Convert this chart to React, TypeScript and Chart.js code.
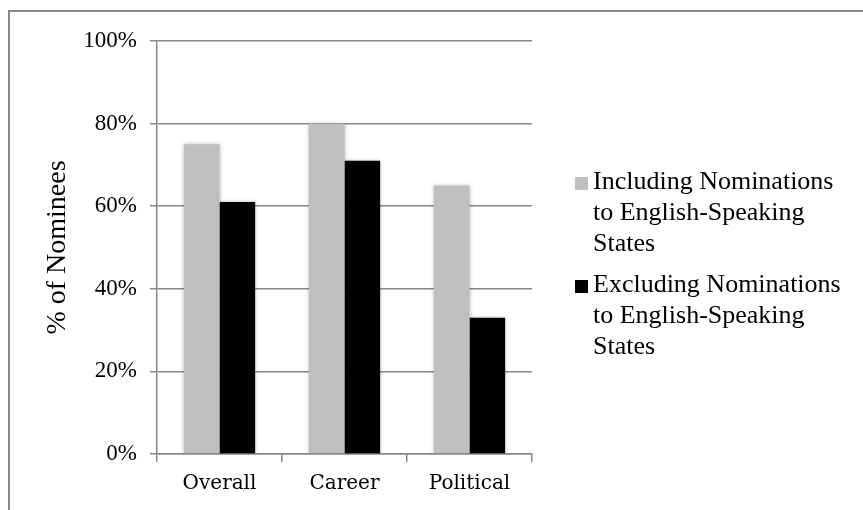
import React, { useEffect, useRef } from "react";
import { Chart, registerables } from "chart.js";

Chart.register(...registerables);

const categories = ["Overall", "Career", "Political"];
const includingLabel = ["Including Nominations", "to English-Speaking", "States"];
const excludingLabel = ["Excluding Nominations", "to English-Speaking", "States"];
const includingValues = [75, 80, 65];
const excludingValues = [61, 71, 33];
const yTicks = [0, 20, 40, 60, 80, 100];

const GRAY = "#bfbfbf";
const BLACK = "#000000";
const AXIS = "#878787";

// Frame line along the top and left edges of the figure
const framePlugin = {
  id: "frame",
  beforeDraw(chart: Chart) {
    const ctx = chart.ctx;
    ctx.save();
    ctx.fillStyle = "#ffffff";
    ctx.fillRect(0, 0, chart.width, chart.height);
    ctx.strokeStyle = "#8a8a8a";
    ctx.lineWidth = 2;
    ctx.strokeRect(9, 11, chart.width + 20, chart.height + 20);
    ctx.restore();
  },
};

// Soft drop shadow around the bars
const shadowPlugin = {
  id: "barShadow",
  beforeDatasetsDraw(chart: Chart) {
    const ctx = chart.ctx;
    ctx.save();
    ctx.shadowColor = "rgba(0,0,0,0.28)";
    ctx.shadowBlur = 4;
    ctx.shadowOffsetX = 0;
    ctx.shadowOffsetY = 0;
  },
  afterDatasetsDraw(chart: Chart) {
    chart.ctx.restore();
  },
};

// Multi-line legend placed to the right of the plot
const sideLegendPlugin = {
  id: "sideLegend",
  afterDraw(chart: Chart) {
    const ctx = chart.ctx;
    const area = chart.chartArea;
    const x0 = area.right + 43;
    const lineH = 31;
    const entryGap = 103;
    let baseline = area.top + 147.5;
    ctx.save();
    ctx.font = '26px "Liberation Serif", "Times New Roman", serif';
    ctx.textBaseline = "alphabetic";
    ctx.textAlign = "left";
    chart.data.datasets.forEach((ds: any) => {
      const lines: string[] = ds.legendLines;
      ctx.fillStyle = ds.backgroundColor;
      ctx.fillRect(x0, baseline - 11.5, 13, 13);
      ctx.fillStyle = "#000000";
      lines.forEach((t, i) => {
        ctx.fillText(t, x0 + 18, baseline + i * lineH);
      });
      baseline += entryGap;
    });
    ctx.restore();
  },
};

export default function App() {
  const canvasRef = useRef<HTMLCanvasElement | null>(null);

  useEffect(() => {
    if (!canvasRef.current) return;
    const chart = new Chart(canvasRef.current, {
      type: "bar",
      data: {
        labels: categories,
        datasets: [
          {
            label: includingLabel.join(" "),
            legendLines: includingLabel,
            data: includingValues,
            backgroundColor: GRAY,
            borderWidth: 0,
            categoryPercentage: 0.57,
            barPercentage: 1,
          } as any,
          {
            label: excludingLabel.join(" "),
            legendLines: excludingLabel,
            data: excludingValues,
            backgroundColor: BLACK,
            borderWidth: 0,
            categoryPercentage: 0.57,
            barPercentage: 1,
          } as any,
        ],
      },
      options: {
        animation: false,
        responsive: false,
        devicePixelRatio: 1,
        layout: { padding: { left: 0, top: 41, right: 331, bottom: 0 } },
        plugins: {
          legend: { display: false },
          tooltip: { enabled: false },
        },
        scales: {
          x: {
            grid: {
              display: true,
              drawOnChartArea: false,
              drawTicks: true,
              tickLength: 8,
              color: AXIS,
              lineWidth: 1.5,
            },
            border: { display: true, color: AXIS, width: 1.5 },
            ticks: {
              color: "#000000",
              padding: 10,
              font: { family: '"DejaVu Serif", serif', size: 20 },
            },
            afterFit(scale: any) {
              scale.height = 56;
            },
          },
          y: {
            min: 0,
            max: 100,
            afterBuildTicks(scale: any) {
              scale.ticks = yTicks.map((v) => ({ value: v }));
            },
            grid: {
              color: AXIS,
              lineWidth: 1.5,
              drawTicks: true,
              tickLength: 7,
            },
            border: { display: true, color: AXIS, width: 1.5 },
            ticks: {
              color: "#000000",
              padding: 13,
              font: { family: '"Liberation Serif", "Times New Roman", serif', size: 23 },
              callback: (v: any) => `${v}%`,
            },
            title: {
              display: true,
              text: "% of Nominees",
              color: "#000000",
              font: { family: '"Liberation Serif", "Times New Roman", serif', size: 28 },
              padding: { top: 41, bottom: 0 },
            },
            afterFit(scale: any) {
              scale.width = 157;
            },
          },
        },
      },
      plugins: [framePlugin, shadowPlugin, sideLegendPlugin],
    });
    return () => chart.destroy();
  }, []);

  return (
    <div style={{ position: "absolute", left: 0, top: 0, width: 863, height: 510, background: "#fff" }}>
      <canvas ref={canvasRef} width={863} height={510} style={{ display: "block", width: 863, height: 510 }} />
    </div>
  );
}
